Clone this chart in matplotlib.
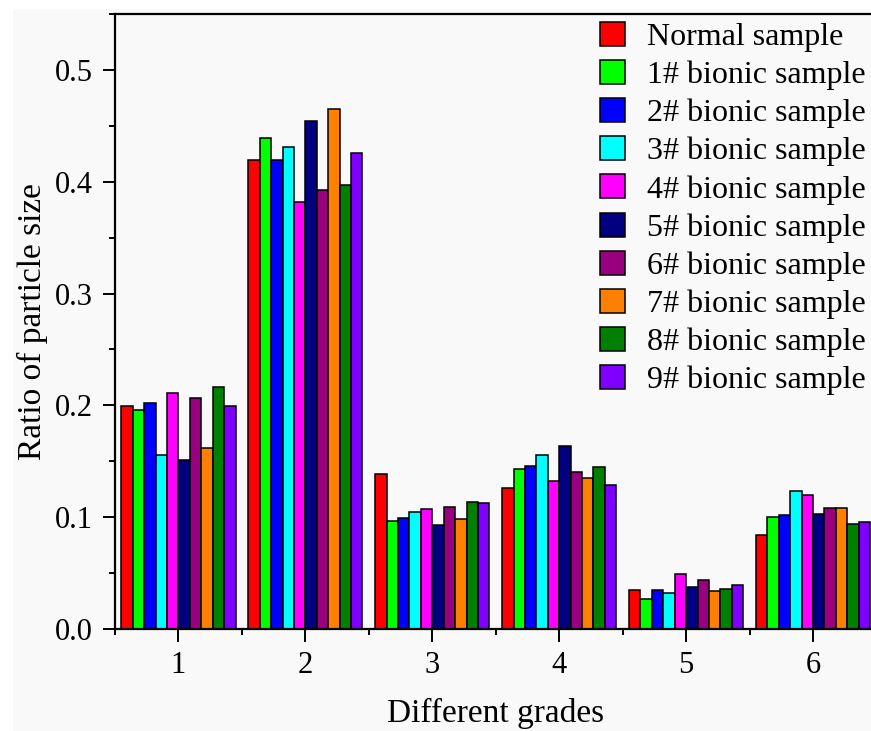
import matplotlib
matplotlib.use("Agg")
import matplotlib.pyplot as plt
from matplotlib.patches import Rectangle
from matplotlib.ticker import MultipleLocator
import numpy as np

plt.rcParams['font.family'] = ['Liberation Serif', 'DejaVu Serif']

grades = ["1", "2", "3", "4", "5", "6"]
series_names = ["Normal sample", "1# bionic sample", "2# bionic sample", "3# bionic sample",
                "4# bionic sample", "5# bionic sample", "6# bionic sample", "7# bionic sample",
                "8# bionic sample", "9# bionic sample"]
colors = ["#FF0000", "#00FF00", "#0000FF", "#00FFFF", "#FF00FF",
          "#000080", "#990080", "#FF8000", "#008000", "#8000FF"]

normal = [0.199, 0.419, 0.139, 0.126, 0.035, 0.084]
b1 = [0.196, 0.439, 0.097, 0.143, 0.027, 0.100]
b2 = [0.202, 0.419, 0.099, 0.146, 0.035, 0.102]
b3 = [0.156, 0.431, 0.105, 0.156, 0.032, 0.123]
b4 = [0.211, 0.382, 0.107, 0.132, 0.049, 0.120]
b5 = [0.151, 0.454, 0.093, 0.164, 0.038, 0.103]
b6 = [0.207, 0.393, 0.109, 0.140, 0.044, 0.108]
b7 = [0.162, 0.465, 0.098, 0.135, 0.034, 0.108]
b8 = [0.216, 0.397, 0.114, 0.145, 0.036, 0.094]
b9 = [0.199, 0.426, 0.113, 0.129, 0.039, 0.096]
all_series = [normal, b1, b2, b3, b4, b5, b6, b7, b8, b9]

W, H = 871, 731
fig = plt.figure(figsize=(W / 100, H / 100), dpi=100, facecolor="white")
fig.patches.append(Rectangle((13 / W, 0), 1, 1 - 9 / H, transform=fig.transFigure,
                             facecolor="#f9f9f9", edgecolor="none", zorder=-10))

ax = fig.add_axes([115 / W, (H - 629) / H, (876.5 - 115) / W, (629 - 14) / H])
ax.set_facecolor("#f9f9f9")

x = np.arange(1, len(grades) + 1)
n = len(all_series)
bw = 0.09
for i, (vals, c, name) in enumerate(zip(all_series, colors, series_names)):
    ax.bar(x + (i - (n - 1) / 2) * bw, vals, width=bw, color=c, edgecolor="black",
           linewidth=1.1, label=name, zorder=2)

ax.set_xlim(0.5, 6.5)
ax.set_ylim(0, 0.55)
ax.set_xticks(x)
ax.set_xticklabels(grades)
ax.set_xticks(np.arange(0.5, 7, 1), minor=True)
ax.yaxis.set_major_locator(MultipleLocator(0.1))
ax.yaxis.set_minor_locator(MultipleLocator(0.05))
ax.yaxis.set_major_formatter(matplotlib.ticker.FormatStrFormatter("%.1f"))

for s in ax.spines.values():
    s.set_linewidth(1.6)
ax.tick_params(axis="both", which="major", direction="out", length=9, width=1.4,
               labelsize=22, pad=7)
ax.tick_params(axis="both", which="minor", direction="out", length=4.5, width=1.4)

ax.set_xlabel("Different grades", fontsize=24, labelpad=13)
ax.set_ylabel("Ratio of particle size", fontsize=24, labelpad=5)

leg = ax.legend(loc="upper left", bbox_to_anchor=(600 / W, 1 - 22 / H),
                bbox_transform=fig.transFigure, frameon=False, fontsize=23,
                handlelength=0.78, handleheight=0.78, handletextpad=0.7,
                labelspacing=0.25, borderaxespad=0, borderpad=0)
for h in leg.legend_handles:
    h.set_linewidth(1.1)

fig.savefig("out.png", dpi=100, facecolor=fig.get_facecolor())
